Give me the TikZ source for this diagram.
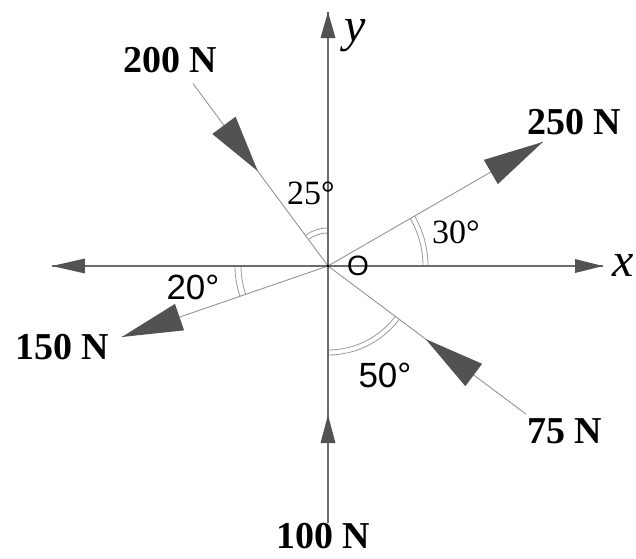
\documentclass[tikz,border=0pt]{standalone}
\usepackage{fontspec}
\setmainfont{Liberation Serif}
\newfontfamily\arialfont{Liberation Sans}
\definecolor{axisgray}{gray}{0.42}
\definecolor{forcegray}{gray}{0.58}
\definecolor{headgray}{gray}{0.32}
\definecolor{arcgray}{gray}{0.6}
\tikzset{
  axisline/.style={draw=axisgray, line width=1.3pt},
  forceline/.style={draw=forcegray, line width=0.9pt},
  headfill/.style={fill=headgray},
  arcline/.style={draw=arcgray, line width=0.8pt},
  forcelabel/.style={font=\fontsize{38}{40}\selectfont\bfseries, inner sep=0pt},
  anglabel/.style={font=\fontsize{34}{36}\selectfont, inner sep=0pt},
  sanslabel/.style={font=\arialfont\fontsize{35}{37}\selectfont, inner sep=0pt},
  olabel/.style={font=\arialfont\fontsize{28}{30}\selectfont, inner sep=0pt},
  axislabel/.style={font=\fontsize{48}{50}\selectfont\itshape, inner sep=0pt},
}
% arrowhead pointing away from O: angle, tip distance, length, width
\newcommand{\outhead}[4]{\fill[headfill,rotate=#1] (#2,0) -- ({#2-#3},{#4/2}) -- ({#2-#3},{-#4/2}) -- cycle;}
% arrowhead pointing toward O
\newcommand{\inhead}[4]{\fill[headfill,rotate=#1] (#2,0) -- ({#2+#3},{#4/2}) -- ({#2+#3},{-#4/2}) -- cycle;}
\newcommand{\dblarc}[4]{% start, end, r1, r2
  \draw[arcline] (#1:#3) arc[start angle=#1, end angle=#2, radius=#3];
  \draw[arcline] (#1:#4) arc[start angle=#1, end angle=#2, radius=#4];}
\begin{document}
\begin{tikzpicture}[x=1pt,y=1pt]
\useasboundingbox (-328,-292) rectangle (308,266);
% points
\coordinate (O) at (0,0);
\coordinate (ytop) at (0,254);
\coordinate (ybot) at (0,-257);
\coordinate (xleft) at (-276,0);
\coordinate (xright) at (275,0);
\coordinate (e250) at (30:248);
\coordinate (e200) at (126.5:227);
\coordinate (e150) at (199:218);
\coordinate (e75) at (-36.8:247);
% angle arcs
\dblarc{90}{126.5}{33}{38}
\dblarc{0}{30}{95}{100}
\dblarc{180}{199}{87}{93}
\dblarc{270}{323.2}{84}{89}
% lines
\draw[forceline] (O) -- (e250);
\draw[forceline] (O) -- (e200);
\draw[forceline] (O) -- (e150);
\draw[forceline] (O) -- (e75);
\draw[axisline] (O) -- (ytop);
\draw[axisline] (O) -- (ybot);
\draw[axisline] (O) -- (xleft);
\draw[axisline] (O) -- (xright);
% arrowheads
\outhead{90}{254}{26}{15}
\inhead{-90}{149}{28}{15}
\outhead{180}{276}{33}{15}
\outhead{0}{275}{28}{14}
\outhead{30}{248}{60}{28}
\inhead{126.5}{118}{57}{29}
\inhead{-36.8}{122}{60}{28}
\outhead{199}{218}{61}{28}
\fill[black] (O) circle (1.6);
% labels
\node[axislabel] (ylab) at (27,230) {y};
\node[axislabel] (xlab) at (295,1) {x};
\node[olabel] (olab) at (30,0) {O};
\node[anglabel] (a25) at (-17,73) {25°};
\node[anglabel] (a30) at (128,34) {30°};
\node[sanslabel] (a20) at (-135,-21) {20°};
\node[sanslabel] (a50) at (57,-109) {50°};
\node[forcelabel] (l200) at (-158,206) {200 N};
\node[forcelabel] (l250) at (246,144) {250 N};
\node[forcelabel] (l150) at (-266,-81) {150 N};
\node[forcelabel] (l75) at (237,-165) {75 N};
\node[forcelabel, anchor=base] (l100) at (-5,-282) {100 N};
\end{tikzpicture}
\end{document}
